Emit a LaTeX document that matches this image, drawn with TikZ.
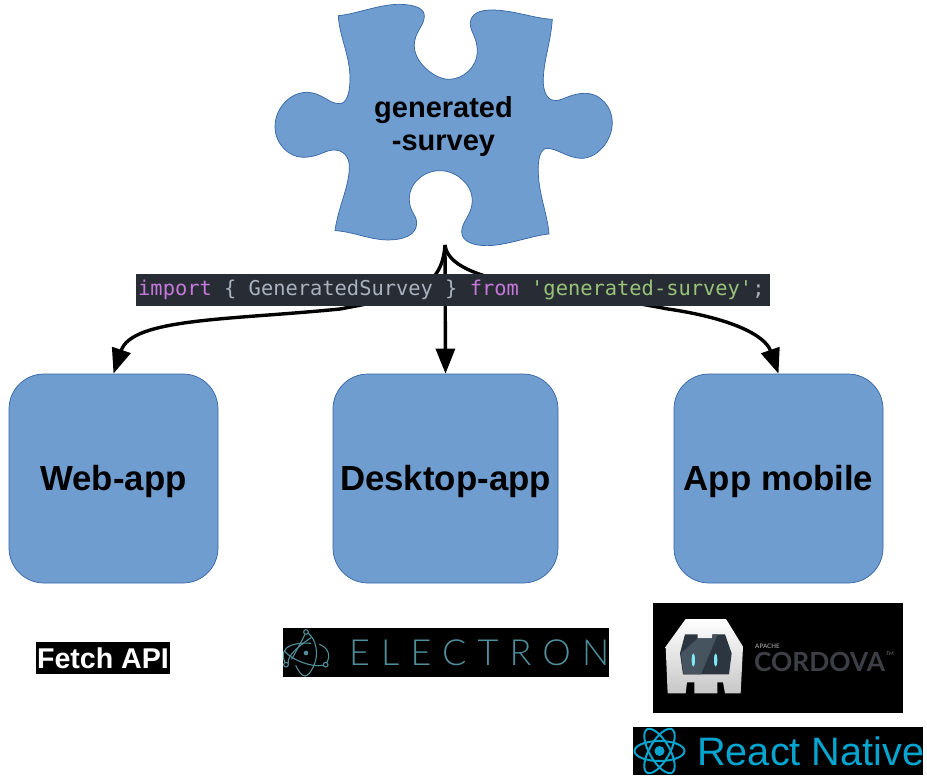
\documentclass[tikz,border=0pt]{standalone}
\usepackage{fontspec}
\setmainfont{Liberation Sans}
\newfontfamily\codefont{DejaVu Sans Mono}
\newfontfamily\logofont{Lato}
\newfontfamily\logolight{Lato Light}
\usetikzlibrary{arrows.meta}
\definecolor{pieceblue}{HTML}{6F9DD0}
\definecolor{pieceedge}{HTML}{3465A4}
\definecolor{codebg}{HTML}{282C34}
\definecolor{kwpurple}{HTML}{C678DD}
\definecolor{codegrey}{HTML}{ABB2BF}
\definecolor{strgreen}{HTML}{98C379}
\definecolor{electroncol}{HTML}{4F8F9B}
\definecolor{reactcol}{HTML}{06A5CF}
\definecolor{cordinner}{HTML}{2C3640}
\definecolor{cordlight}{HTML}{465460}
\definecolor{cordeye}{HTML}{7FE8F8}
\definecolor{cordtext}{HTML}{3C4046}
\tikzset{
  x=1pt,y=-1pt,
  piece/.style={draw=pieceedge,fill=pieceblue,line width=0.7pt},
  appbox/.style={piece,rounded corners=35pt,minimum height=209pt,inner sep=0pt,
     text height=28pt,text depth=5pt,
     font=\bfseries\fontsize{34.8}{36}\selectfont},
  conn/.style={draw=black,line width=3.4pt,-{Triangle[length=25pt,width=19pt]}},
  logobg/.style={fill=black,draw=none,inner sep=0pt},
  ztwo/.style={x=0.3333pt,y=-0.3333pt},
}
\begin{document}
\begin{tikzpicture}
\useasboundingbox (0,0) rectangle (927,781);
\fill[white] (0,0) rectangle (927,781);

% connectors
\coordinate (src) at (445,245);
\node[appbox,minimum width=209pt] (web) at (113.5,478.5) {Web-app};
\node[appbox,minimum width=225pt] (desktop) at (445.5,478.5) {Desktop-app};
\node[appbox,minimum width=209pt] (mobile) at (778.5,478.5) {App mobile};
\draw[conn] (src) .. controls (442,290) and (410,296) .. (340,309) .. controls (230,320) and (132,318) .. (web.north);
\draw[conn] (src) -- (desktop.north);
\draw[conn] (src) .. controls (450,285) and (560,288) .. (668,309) .. controls (730,318) and (765,335) .. (mobile.north);

% puzzle piece
\begin{scope}[shift={(260,0)},ztwo]
\draw[piece] (235,47)
 .. controls (290,42) and (360,12) .. (420,13)
 .. controls (465,14) and (495,25) .. (493,50)
 .. controls (492,80) and (462,95) .. (463,140)
 .. controls (465,190) and (525,238) .. (567,238)
 .. controls (610,238) and (652,200) .. (652,155)
 .. controls (652,110) and (630,95) .. (631,70)
 .. controls (632,40) and (660,30) .. (695,30)
 .. controls (760,30) and (820,55) .. (877,58)
 .. controls (872,130) and (848,190) .. (850,250)
 .. controls (852,285) and (868,303) .. (888,302)
 .. controls (910,300) and (935,280) .. (975,280)
 .. controls (1025,280) and (1057,325) .. (1057,367)
 .. controls (1057,425) and (1010,475) .. (965,475)
 .. controls (925,475) and (890,445) .. (862,445)
 .. controls (840,445) and (833,480) .. (835,520)
 .. controls (838,590) and (862,640) .. (867,702)
 .. controls (810,708) and (740,737) .. (680,737)
 .. controls (640,737) and (605,725) .. (605,695)
 .. controls (605,665) and (637,645) .. (637,600)
 .. controls (637,555) and (590,512) .. (540,512)
 .. controls (490,512) and (448,550) .. (448,595)
 .. controls (448,640) and (470,640) .. (470,670)
 .. controls (470,705) and (430,720) .. (385,720)
 .. controls (330,720) and (280,695) .. (225,692)
 .. controls (235,620) and (268,560) .. (268,500)
 .. controls (268,470) and (250,450) .. (222,450)
 .. controls (195,450) and (175,472) .. (130,472)
 .. controls (85,472) and (45,430) .. (45,380)
 .. controls (45,325) and (90,277) .. (140,277)
 .. controls (185,277) and (205,311) .. (238,311)
 .. controls (260,311) and (270,280) .. (270,235)
 .. controls (270,165) and (238,110) .. cycle;
\end{scope}
\node[font=\bfseries\fontsize{29}{33}\selectfont,align=center,inner sep=0pt] (piecelabel) at (443.5,126.5) {generated\\-survey};

% code banner
\node[fill=codebg,minimum width=634pt,minimum height=32pt,inner sep=0pt] (code) at (453,290) {};
\node[anchor=west,inner sep=0pt,font=\codefont\fontsize{20.4}{24}\selectfont] (codetext) at (138,290)
  {\textcolor{kwpurple}{import}\textcolor{codegrey}{\ \{\ GeneratedSurvey\ \}\ }\textcolor{kwpurple}{from}\textcolor{codegrey}{\ }\textcolor{strgreen}{'generated-survey'}\textcolor{codegrey}{;}};

% Fetch API
\node[logobg,minimum width=134pt,minimum height=32pt,text=white,
      font=\bfseries\fontsize{28.6}{32}\selectfont] (fetch) at (103,658) {Fetch API};

% Electron
\node[logobg,minimum width=326pt,minimum height=49pt] (electronbg) at (446,652.5) {};
\node[anchor=west,inner sep=0pt,text=electroncol,font=\logolight\fontsize{36}{40}\selectfont] (electron) at (349,653)
  {\addfontfeature{LetterSpace=31}ELECTRON};
\begin{scope}[shift={(281,626)},ztwo,draw=electroncol,line width=1.1pt]
\fill[electroncol] (75,81) circle (7);
\draw (75,18) circle (7);
\draw (15,116) circle (7);
\draw (134,116) circle (7);
\draw (82,22) .. controls (105,40) and (115,85) .. (98,120) .. controls (90,138) and (80,150) .. (72,150) .. controls (62,150) and (52,135) .. (44,118);
\draw (72,25) .. controls (60,50) and (40,85) .. (32,100);
\draw (12,109) .. controls (0,85) and (10,65) .. (30,58) .. controls (50,52) and (65,50) .. (90,52);
\draw (22,113) .. controls (15,90) and (60,55) .. (90,35);
\draw (138,109) .. controls (150,85) and (140,65) .. (115,55);
\draw (10,75) .. controls (30,100) and (90,125) .. (127,118);
\end{scope}

% Cordova
\node[logobg,minimum width=250pt,minimum height=110pt] (cordovabg) at (778,658) {};
\begin{scope}[shift={(625,595)},ztwo]
\shade[top color=white,bottom color=black!22] (182,72) -- (303,72) -- (354,155) -- (347,295) -- (300,295) -- (294,262) -- (277,262) -- (277,295) -- (208,295) -- (208,262) -- (186,262) -- (182,295) -- (128,295) -- (122,155) -- cycle;
\fill[cordinner] (180,118) -- (218,118) -- (218,130) -- (262,130) -- (262,118) -- (300,118) -- (320,175) -- (312,238) -- (174,238) -- (165,175) -- cycle;
\fill[cordlight] (218,130) -- (262,130) -- (262,118) -- (278,118) -- (228,238) -- (176,238) -- (168,175) -- cycle;
\fill[cordeye] (205,195) ellipse (5 and 20);
\fill[cordeye] (272,195) ellipse (5 and 20);
\end{scope}
\node[inner sep=0pt,anchor=west,text=black!45,font=\logofont\bfseries\fontsize{6.2}{7}\selectfont] (apache) at (755,646) {APACHE};
\node[inner sep=0pt,anchor=west,text=cordtext,font=\logofont\bfseries\fontsize{26.3}{28}\selectfont] (cordova) at (754,662) {CORDOVA};
\node[inner sep=0pt,anchor=west,text=black!55,font=\logofont\fontsize{5}{6}\selectfont] (tm) at (886,654) {TM};

% React Native
\node[logobg,minimum width=290pt,minimum height=48pt] (reactbg) at (778,751) {};
\begin{scope}[shift={(659.5,751)},draw=reactcol,line width=2pt]
\fill[reactcol] (0,0) circle (5);
\draw (0,0) ellipse (25 and 10);
\draw[rotate=60] (0,0) ellipse (25 and 10);
\draw[rotate=120] (0,0) ellipse (25 and 10);
\end{scope}
\node[anchor=west,inner sep=0pt,text=reactcol,font=\fontsize{39.7}{42}\selectfont] (react) at (697,751) {React Native};
\end{tikzpicture}
\end{document}
